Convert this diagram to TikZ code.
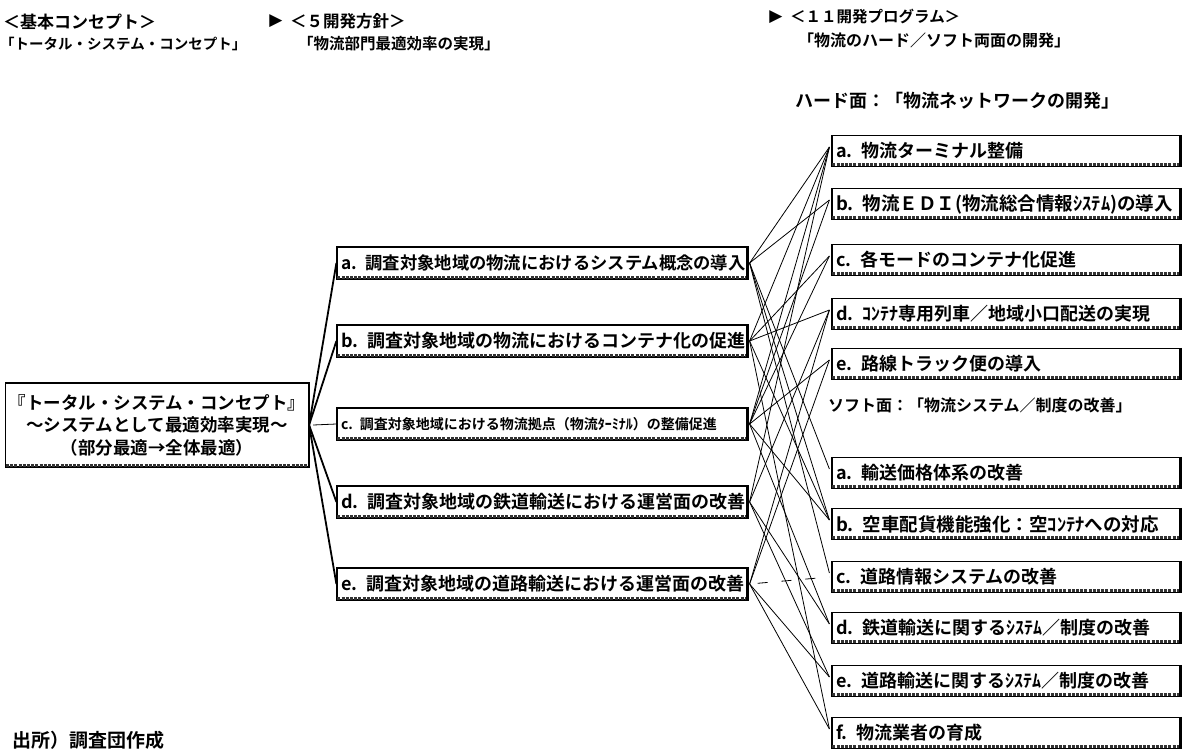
\documentclass[tikz,border=0pt]{standalone}
\usepackage{fontspec}
\setmainfont{Noto Sans CJK JP}[BoldFont={Noto Sans CJK JP Bold}]
\newfontfamily\dejavu{DejaVu Sans}
\begin{document}
\begin{tikzpicture}[x=1pt,y=-1pt,
  every node/.style={font=\bfseries},
  bx/.style={draw, line width=1.2pt, inner xsep=3pt, inner ysep=0pt, align=left},
  midbox/.style={bx, minimum width=410pt, text width=402pt, minimum height=32pt},
  rbox/.style={bx, minimum width=348pt, text width=340pt, minimum height=31pt},
  lbox/.style={bx, minimum width=294pt, minimum height=84pt, align=center},
  hdr/.style={anchor=west, inner sep=0pt},
  tri/.style={anchor=center, inner sep=0pt, font=\dejavu\fontsize{17}{17}\selectfont},
  link/.style={line width=0.8pt},
  trunk/.style={line width=1.8pt},
  band/.style={line width=3pt, black!80, dash pattern=on 3pt off 1.2pt}
]
\useasboundingbox (0,0) rectangle (1186,750);
\fill[white] (0,0) rectangle (1186,750);

% headers
\node[hdr, font=\bfseries\fontsize{17}{17}\selectfont] (h1) at (3,22) {＜基本コンセプト＞};
\node[hdr, font=\bfseries\fontsize{14.5}{14.5}\selectfont] (h2) at (0,44) {「トータル・システム・コンセプト」};
\node[tri] (ar1) at (276,21) {▶};
\node[hdr, font=\bfseries\fontsize{16.5}{16.5}\selectfont] (h3) at (290,21) {＜５開発方針＞};
\node[hdr, font=\bfseries\fontsize{15.5}{15.5}\selectfont] (h4) at (298,44) {「物流部門最適効率の実現」};
\node[tri] (ar2) at (776,17) {▶};
\node[hdr, font=\bfseries\fontsize{15.5}{15.5}\selectfont] (h5) at (790,17) {＜１１開発プログラム＞};
\node[hdr, font=\bfseries\fontsize{16}{16}\selectfont] (h6) at (798,40) {「物流のハード／ソフト両面の開発」};
\node[hdr, font=\bfseries\fontsize{18}{18}\selectfont] (h7) at (795,101) {ハード面：「物流ネットワークの開発」};
\node[hdr, font=\bfseries\fontsize{16}{16}\selectfont] (h8) at (828,405) {ソフト面：「物流システム／制度の改善」};
\node[hdr, font=\bfseries\fontsize{19}{19}\selectfont] (src) at (12,740) {出所）調査団作成};

% left box
\node[lbox, font=\bfseries\fontsize{17.5}{22.5}\selectfont] (lb) at (157,425)
  {『トータル・システム・コンセプト』\\～システムとして最適効率実現～\\（部分最適→全体最適）};

% middle boxes
\node[midbox, font=\bfseries\fontsize{17.3}{17.3}\selectfont] (ma) at (542,263) {a. 調査対象地域の物流におけるシステム概念の導入};
\node[midbox, font=\bfseries\fontsize{18}{18}\selectfont] (mb) at (542,341) {b. 調査対象地域の物流におけるコンテナ化の促進};
\node[midbox, font=\bfseries\fontsize{14}{14}\selectfont] (mc) at (542,424) {c. 調査対象地域における物流拠点（物流ﾀｰﾐﾅﾙ）の整備促進};
\node[midbox, font=\bfseries\fontsize{18}{18}\selectfont] (md) at (542,502) {d. 調査対象地域の鉄道輸送における運営面の改善};
\node[midbox, font=\bfseries\fontsize{18}{18}\selectfont] (me) at (542,584) {e. 調査対象地域の道路輸送における運営面の改善};

% right boxes: hard
\node[rbox, font=\bfseries\fontsize{18}{18}\selectfont] (ha) at (1006,151) {a. 物流ターミナル整備};
\node[rbox, font=\bfseries\fontsize{18.5}{18.5}\selectfont] (hb) at (1006,204) {b. 物流ＥＤＩ(物流総合情報ｼｽﾃﾑ)の導入};
\node[rbox, font=\bfseries\fontsize{18}{18}\selectfont] (hc) at (1006,260) {c. 各モードのコンテナ化促進};
\node[rbox, font=\bfseries\fontsize{18}{18}\selectfont] (hd) at (1006,314) {d. ｺﾝﾃﾅ専用列車／地域小口配送の実現};
\node[rbox, font=\bfseries\fontsize{18}{18}\selectfont] (he) at (1006,364) {e. 路線トラック便の導入};
% right boxes: soft
\node[rbox, font=\bfseries\fontsize{18}{18}\selectfont] (sa) at (1006,473) {a. 輸送価格体系の改善};
\node[rbox, font=\bfseries\fontsize{18.5}{18.5}\selectfont] (sb) at (1006,524) {b. 空車配貨機能強化：空ｺﾝﾃﾅへの対応};
\node[rbox, font=\bfseries\fontsize{18}{18}\selectfont] (sc) at (1006,577) {c. 道路情報システムの改善};
\node[rbox, font=\bfseries\fontsize{18}{18}\selectfont] (sd) at (1006,628) {d. 鉄道輸送に関するｼｽﾃﾑ／制度の改善};
\node[rbox, font=\bfseries\fontsize{18}{18}\selectfont] (se) at (1006,681) {e. 道路輸送に関するｼｽﾃﾑ／制度の改善};
\node[rbox, font=\bfseries\fontsize{18}{18}\selectfont] (sf) at (1006,733) {f. 物流業者の育成};

% shadow bands and thick right edges
\foreach \n in {lb,ma,mb,mc,md,me,ha,hb,hc,hd,he,sa,sb,sc,sd,se,sf}{
  \draw[band] ([xshift=1pt,yshift=2.2pt]\n.south west) -- ([xshift=-1pt,yshift=2.2pt]\n.south east);
  \draw[line width=2.4pt] (\n.north east) -- (\n.south east);
}

% trunk from concept to policies
\foreach \t in {ma,mb,md,me}{
  \draw[trunk] (lb.east) -- (\t.west);
}
\draw[link] ([xshift=4pt]lb.east) -- (mc.west);

% policies to programmes
\foreach \s/\t in {ma/ha, ma/hb, ma/sa, ma/sb, ma/sc,
                   mb/ha, mb/hc, mb/hd, mb/sb, mb/sf,
                   mc/ha, mc/hb, mc/hc, mc/he, mc/sb, mc/sd,
                   md/ha, md/hd, md/sd, md/se,
                   me/hd, me/he, me/se, me/sf}{
  \draw[link] ([xshift=2pt]\s.east) -- ([xshift=-2pt,yshift=4pt]\t.west);
}
\draw[link, dash pattern=on 10pt off 14pt, dash phase=-8pt] ([xshift=2pt]me.east) -- ([xshift=-2pt]sc.west);
\end{tikzpicture}
\end{document}
